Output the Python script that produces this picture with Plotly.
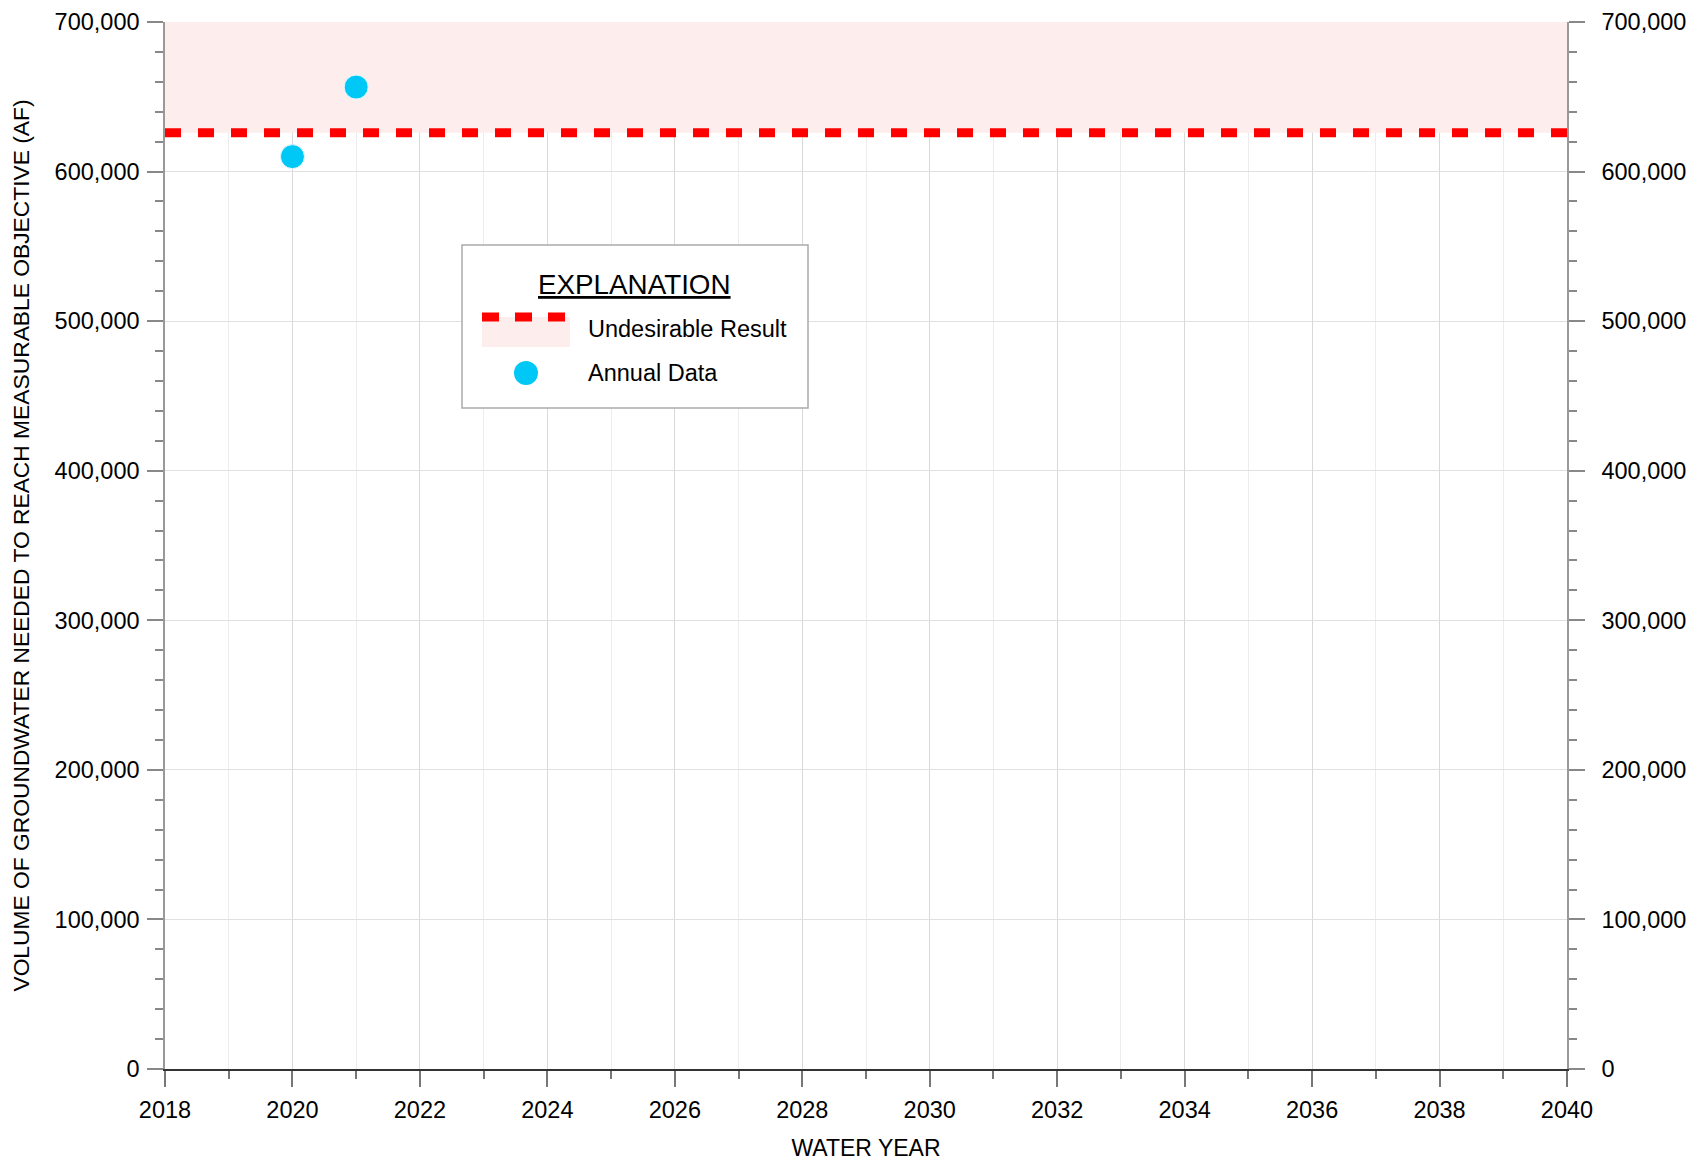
import plotly.graph_objects as go

# ---- data ----
years = [2020, 2021]
annual_volume = [610000, 656500]
threshold_value = 626000
threshold_years = [2018, 2040]
y_top = 700000
x_tick_vals = list(range(2018, 2041, 2))
y_tick_vals = list(range(0, 700001, 100000))

FONT = "Liberation Sans, Arial, sans-serif"
OFF = 8  # default page body margin
W, H = 1698 - OFF, 1162 - OFF
PL, PR, PT, PB = 165, 1567, 22, 1069  # plot area in page pixels
L, R, T, B = PL - OFF, 1698 - PR, PT - OFF, 1162 - PB
PW, PH = PR - PL, PB - PT

def px(x):
    return (x - PL) / PW

def py(y):
    return (PB - y) / PH

fig = go.Figure()

# undesirable region (fill from threshold to top)
fig.add_trace(go.Scatter(
    x=[threshold_years[0], threshold_years[1], threshold_years[1], threshold_years[0], threshold_years[0]],
    y=[threshold_value, threshold_value, y_top, y_top, threshold_value],
    fill="toself", fillcolor="#fdeeed", line=dict(width=0), mode="lines",
    hoverinfo="skip", showlegend=False))

# threshold line
fig.add_trace(go.Scatter(
    x=threshold_years, y=[threshold_value] * 2, mode="lines",
    line=dict(color="#ff0000", width=9, dash="16px,17px"),
    showlegend=False, cliponaxis=False))

# annual data
fig.add_trace(go.Scatter(
    x=years, y=annual_volume, mode="markers",
    marker=dict(size=24, color="#00c8f6", line=dict(width=1, color="#e6f8fe")),
    showlegend=False, cliponaxis=False))

# dummy trace for right axis
fig.add_trace(go.Scatter(x=years, y=annual_volume, yaxis="y2", mode="markers",
                         marker=dict(opacity=0), hoverinfo="skip", showlegend=False))

tickfont = dict(family=FONT, size=23.5, color="black")

fig.update_layout(
    width=W, height=H,
    margin=dict(l=L, r=R, t=T, b=B),
    plot_bgcolor="white", paper_bgcolor="white",
    font=dict(family=FONT, color="black"),
    xaxis=dict(
        range=[2018, 2040], tickvals=x_tick_vals, ticktext=[str(v) for v in x_tick_vals],
        ticks="outside", ticklen=16, tickwidth=1.5, tickcolor="#777",
        showgrid=True, gridcolor="#d9d9d9", gridwidth=1,
        minor=dict(dtick=1, ticks="outside", ticklen=8, tickcolor="#777", showgrid=True,
                   gridcolor="#ececec"),
        showline=True, linecolor="#333", linewidth=1.5,
        tickfont=tickfont, zeroline=False, automargin=False, ticklabelstandoff=3,
        title=dict(text="WATER YEAR", font=dict(family=FONT, size=23, color="black"), standoff=18),
    ),
    yaxis=dict(
        range=[0, y_top], tickvals=y_tick_vals, tickformat=",d",
        ticks="outside", ticklen=16, tickwidth=1.5, tickcolor="#888",
        showgrid=True, gridcolor="#e0e0e0",
        minor=dict(dtick=20000, ticks="outside", ticklen=8, tickcolor="#888", showgrid=False),
        showline=True, linecolor="#999", linewidth=1.5,
        tickfont=tickfont, zeroline=False, automargin=False, ticklabelstandoff=3,
        title=dict(text="VOLUME OF GROUNDWATER NEEDED TO REACH MEASURABLE OBJECTIVE (AF)",
                   font=dict(family=FONT, size=22.8, color="black"), standoff=20),
    ),
    yaxis2=dict(
        range=[0, y_top], tickvals=y_tick_vals, tickformat=",d", overlaying="y", side="right",
        ticks="outside", ticklen=16, tickwidth=1.5, tickcolor="#888",
        showgrid=False,
        minor=dict(dtick=20000, ticks="outside", ticklen=8, tickcolor="#888"),
        showline=True, linecolor="#999", linewidth=1.5,
        tickfont=tickfont, zeroline=False, automargin=False, ticklabelstandoff=12,
    ),
)

# ---- manual explanation box ----
shapes = [
    dict(type="rect", xref="paper", yref="paper", x0=px(462), x1=px(808), y0=py(408), y1=py(245),
         line=dict(color="#aaaaaa", width=1.5), fillcolor="white", layer="above"),
    dict(type="rect", xref="paper", yref="paper", x0=px(482), x1=px(570), y0=py(347), y1=py(317),
         line=dict(width=0), fillcolor="#fdeeed", layer="above"),
    dict(type="line", xref="paper", yref="paper", x0=px(482), x1=px(566), y0=py(317), y1=py(317),
         line=dict(color="#ff0000", width=9, dash="17px,16px"), layer="above"),
    dict(type="circle", xref="paper", yref="paper", x0=px(514), x1=px(538), y0=py(385), y1=py(361),
         line=dict(width=0), fillcolor="#00c8f6", layer="above"),
]
fig.update_layout(shapes=shapes)

annotations = [
    dict(text="<u>EXPLANATION</u>", xref="paper", yref="paper", x=px(634), y=py(284),
         xanchor="center", yanchor="middle", showarrow=False,
         font=dict(family=FONT, size=27.8, color="black")),
    dict(text="Undesirable Result", xref="paper", yref="paper", x=px(586), y=py(329),
         xanchor="left", yanchor="middle", showarrow=False,
         font=dict(family=FONT, size=23.5, color="black")),
    dict(text="Annual Data", xref="paper", yref="paper", x=px(586), y=py(373),
         xanchor="left", yanchor="middle", showarrow=False,
         font=dict(family=FONT, size=23.5, color="black")),
]
fig.update_layout(annotations=annotations)

fig.write_html("out.html")
